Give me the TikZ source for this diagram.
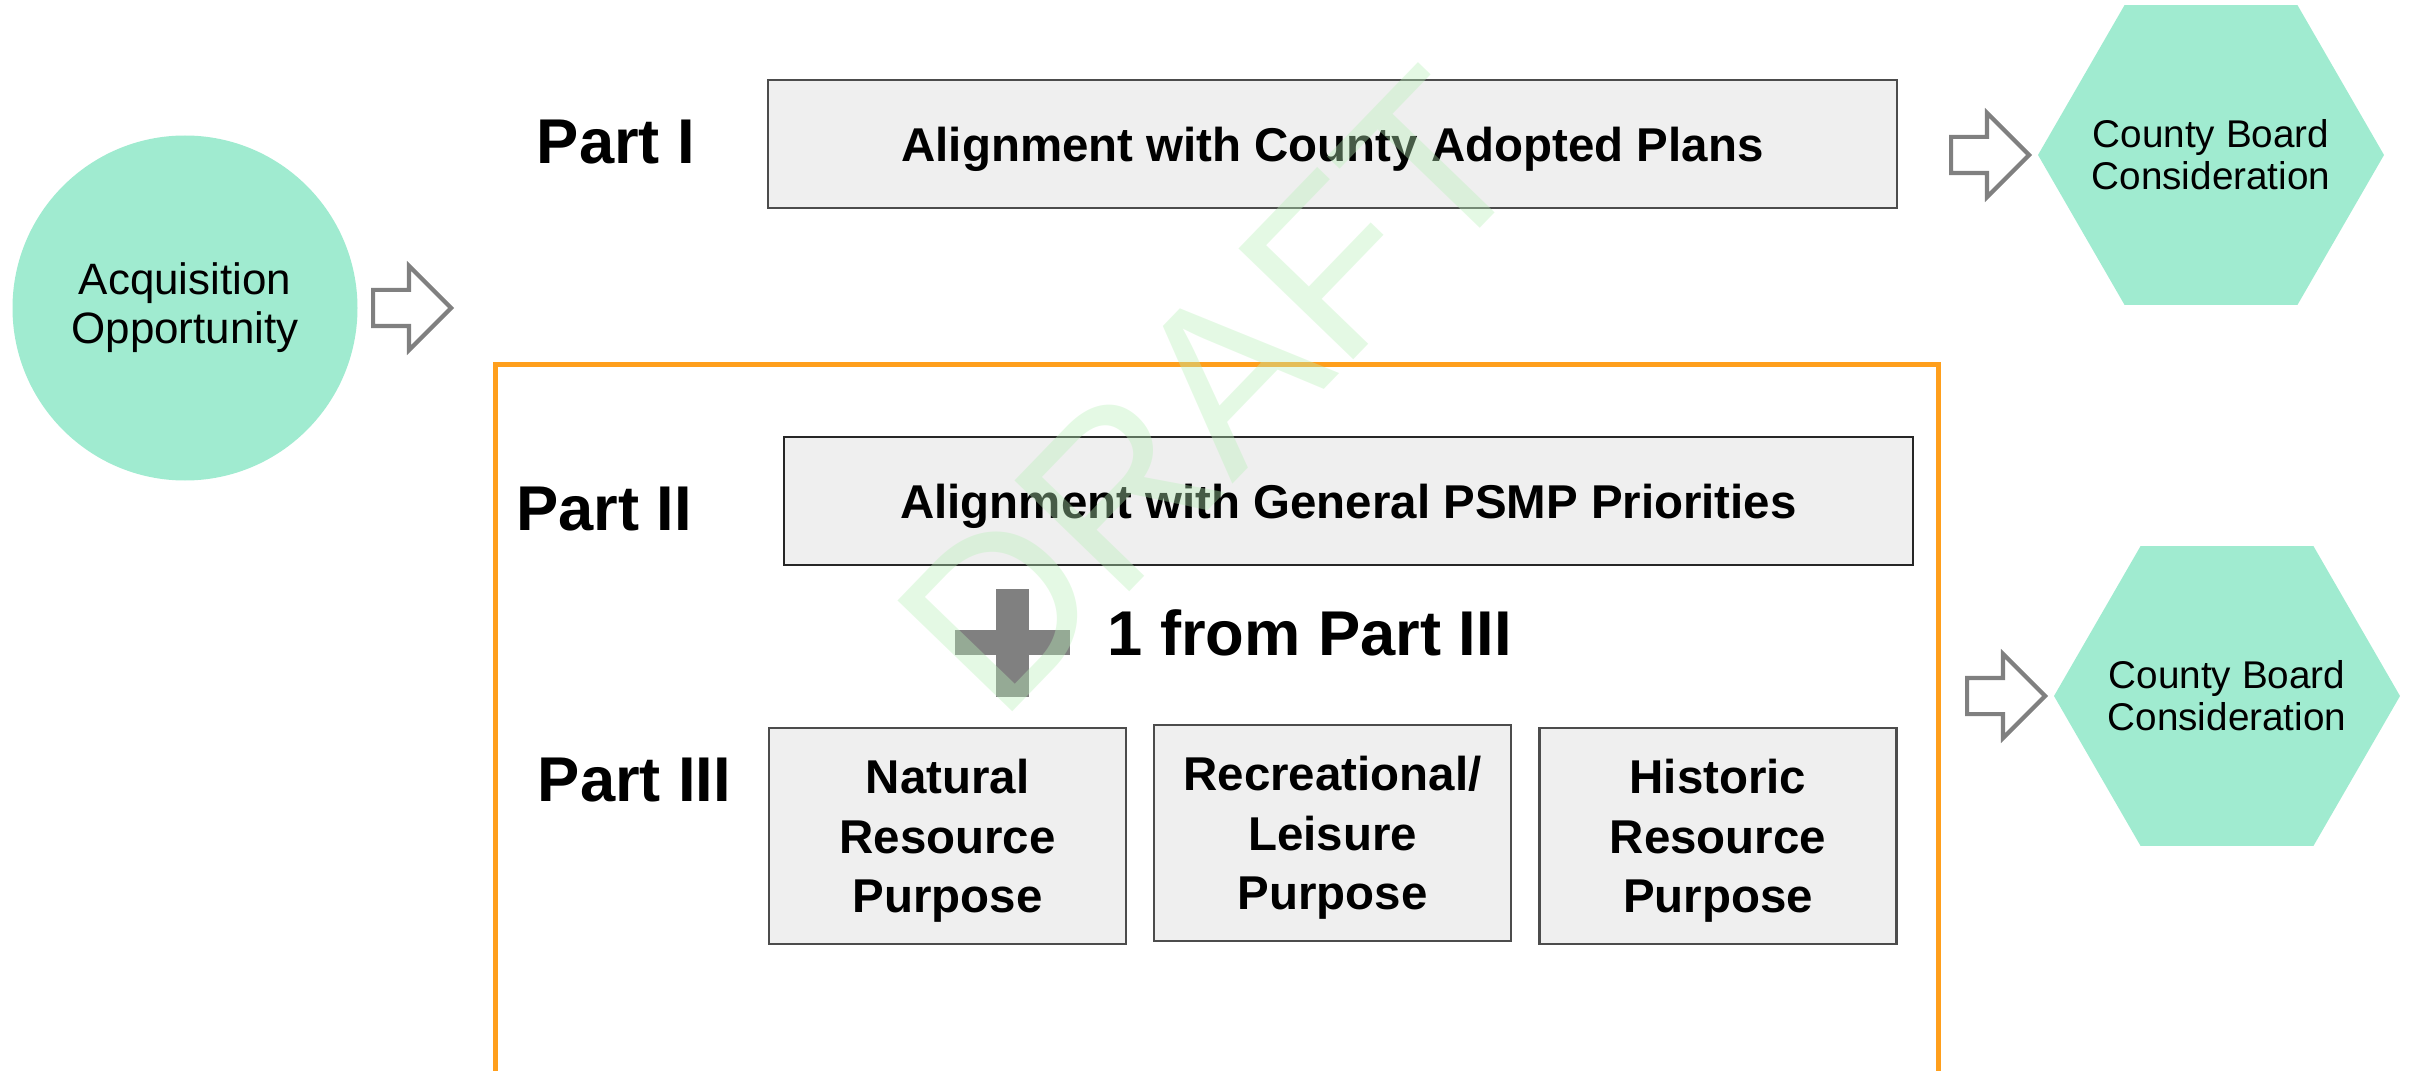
\documentclass[tikz,border=0pt]{standalone}
\usepackage{fontspec}
\setmainfont{Liberation Sans}
\usetikzlibrary{positioning, shapes.arrows, shapes.geometric}

\definecolor{mint}{RGB}{160,235,208}
\definecolor{boxgray}{RGB}{239,239,239}
\definecolor{arrowgray}{RGB}{128,128,128}
\definecolor{frameorange}{RGB}{255,159,28}
\definecolor{draftgreen}{RGB}{185,240,185}

\begin{document}
\begin{tikzpicture}[
  % ---- styles ----
  start/.style = {
    circle, fill=mint,
    minimum size=3.45cm, inner sep=0pt,
    align=center,
    font=\fontsize{12.5}{14}\selectfont
  },
  board/.style = {
    regular polygon, regular polygon sides=6,
    fill=mint,
    minimum size=3.46cm, inner sep=-0.3cm,
    align=center,
    font=\fontsize{11}{12}\selectfont
  },
  partlabel/.style = {font=\fontsize{18}{21}\selectfont\bfseries, inner sep=0pt},
  criteria/.style = {
    rectangle, draw=black!70, fill=boxgray, line width=0.6pt,
    minimum width=11.29cm, minimum height=1.28cm,
    text depth=0pt,
    font=\fontsize{13.5}{16}\selectfont\bfseries
  },
  purpose/.style = {
    criteria,
    minimum width=3.57cm, minimum height=2.16cm,
    align=center,
    font=\fontsize{13.5}{17}\selectfont\bfseries
  },
  flow/.style = {
    single arrow, draw=arrowgray, fill=white, line width=1.2pt,
    inner xsep=0pt, inner ysep=0.16cm,
    minimum width=0.80cm, minimum height=0.78cm,
    single arrow head extend=0.24cm,
    anchor=tail
  },
  draftmark/.style = {text=draftgreen, text opacity=0.38, font=\fontsize{66}{70}\selectfont}
]

\useasboundingbox (0,0) rectangle (24.18,-10.71);

% ============ PART I ============

\node[start] (opp) at (1.85, -3.08) {Acquisition\\Opportunity};
\node[flow] (go) at (3.71, -3.08) {};

\node[partlabel] (part1) at (6.16, -1.42) {Part I};
\node[criteria] (plans) at (13.325, -1.44) {Alignment with County Adopted Plans};

\node[flow] (to1) at (19.49, -1.55) {};
\node[board] (board1) at (22.11, -1.55) {County Board\\Consideration};

% ============ PARTS II + III ============

\draw[frameorange, line width=1.4pt] (4.955, -3.645) rectangle (19.385, -10.735);

\node[partlabel] (part2) at (6.04, -5.09) {Part II};
\node[criteria, draw=black!85] (psmp) at (13.485, -5.01) {Alignment with General PSMP Priorities};

% plus sign
\fill[arrowgray] (9.55, -6.30) rectangle (10.70, -6.55);
\fill[arrowgray] (9.96, -5.89) rectangle (10.29, -6.97);
\node[partlabel] (pick) at (13.095, -6.325) {1 from Part III};

\node[partlabel] (part3) at (6.345, -7.805) {Part III};
\node[purpose] (natural) at (9.475, -8.36) {Natural\\Resource\\Purpose};
\node[purpose] (leisure) at (13.325, -8.33) {Recreational/\\Leisure\\Purpose};
\node[purpose] (historic) at (17.18, -8.36) {Historic\\Resource\\Purpose};

\node[flow] (to2) at (19.65, -6.96) {};
\node[board] (board2) at (22.27, -6.96) {County Board\\Consideration};

% watermark
\node[draftmark, rotate=46] (draft) at (12.11, -3.92) {DRAFT};

\end{tikzpicture}
\end{document}
